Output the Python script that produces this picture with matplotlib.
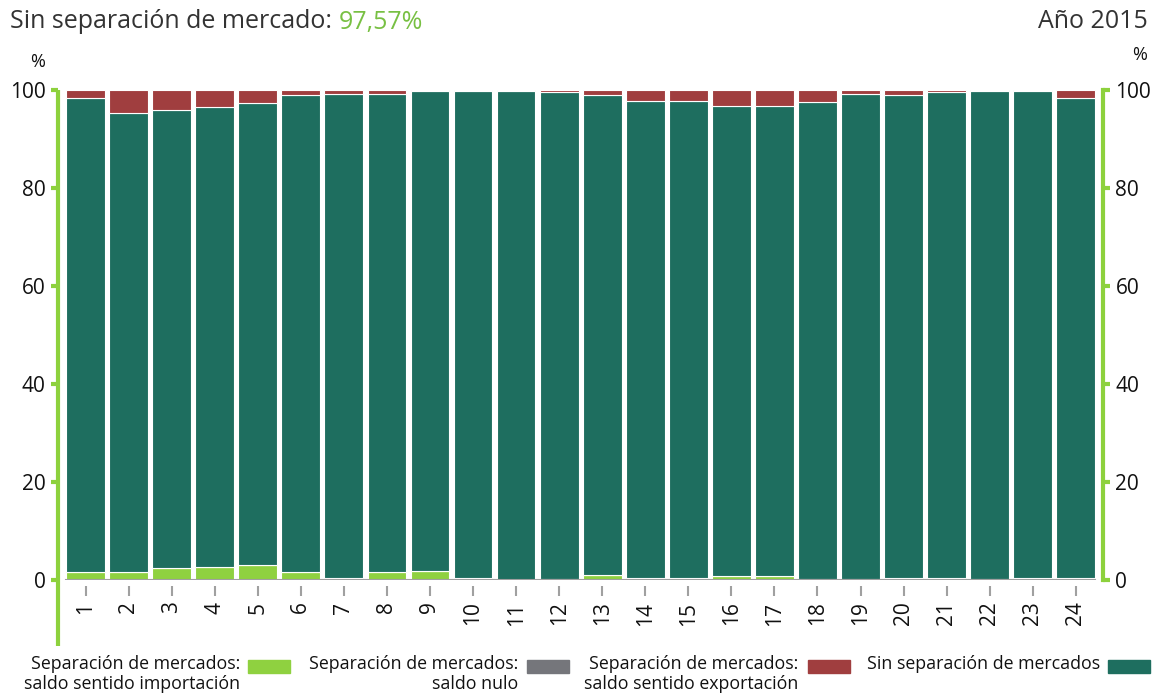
import matplotlib
matplotlib.use("Agg")
import matplotlib.pyplot as plt
from matplotlib.patches import Rectangle
from matplotlib.lines import Line2D
import numpy as np

plt.rcParams['font.family'] = ['Open Sans', 'DejaVu Sans']

hours = list(range(1, 25))
# % de horas por tipo de separacion de mercado (2015)
importacion = [1.6, 1.6, 2.4, 2.7, 3.0, 1.6, 0.5, 1.6, 1.8, 0.5, 0.1, 0.3,
               1.1, 0.5, 0.5, 0.8, 0.8, 0.3, 0.3, 0.5, 0.5, 0.3, 0.5, 0.5]
nulo = [0.0] * 24
exportacion = [1.6, 4.6, 4.1, 3.5, 2.7, 1.1, 0.8, 0.8, 0.3, 0.2, 0.2, 0.4,
               1.1, 2.2, 2.2, 3.2, 3.2, 2.4, 0.8, 1.1, 0.4, 0.2, 0.2, 1.6]
sin_separacion = [100 - a - b - c for a, b, c in zip(importacion, nulo, exportacion)]

legend_labels = ["Separación de mercados:\nsaldo sentido importación",
                 "Separación de mercados:\nsaldo nulo",
                 "Separación de mercados:\nsaldo sentido exportación",
                 "Sin separación de mercados"]
colors = ["#8fd140", "#75767b", "#a03e3f", "#1e6e5f"]
lime = "#8dd13d"

fig = plt.figure(figsize=(11.57, 7.0), dpi=100)
ax = fig.add_axes([0.0501, 0.1714, 0.9032, 0.7])

x = np.array(hours)
bottom = np.zeros(24)
# orden de apilado: importacion, nulo, sin separacion, exportacion (arriba)
stack = [(importacion, colors[0]), (nulo, colors[1]),
         (sin_separacion, colors[3]), (exportacion, colors[2])]
for vals, c in stack:
    ax.bar(x, vals, bottom=bottom, width=0.9, color=c, edgecolor="white", linewidth=0.8)
    bottom += np.array(vals)

ax.set_xlim(0.36, 24.63)
ax.set_ylim(0, 100)
ax.plot([x[0] - 0.45, x[-1] + 0.45], [0, 0], color="#a0a0a0", lw=1.5, zorder=3)

ax.spines['top'].set_visible(False)
ax.spines['left'].set_visible(False)
ax.spines['right'].set_color(lime)
ax.spines['right'].set_linewidth(3)
ax.spines['bottom'].set_position(('outward', 4.5))
ax.spines['bottom'].set_visible(False)
ax.add_line(Line2D([0, 0], [1.0, -0.135], transform=ax.transAxes, color=lime,
                   lw=3, clip_on=False, solid_capstyle='butt'))

ax.set_yticks([0, 20, 40, 60, 80, 100])
ax.tick_params(axis='y', left=True, right=True, labelleft=True, labelright=True,
               direction='out', length=5, width=3, color=lime, pad=4,
               labelsize=15, labelcolor="#111111")
ax.set_xticks(hours)
ax.set_xticklabels([str(h) for h in hours], rotation=90)
ax.tick_params(axis='x', direction='out', length=7, width=1.5, color="#a0a0a0",
               pad=4, labelsize=15, labelcolor="#111111")

fig.text(38 / 1157, 1 - 62 / 700, "%", ha='center', va='center', fontsize=13, color="#111111")
fig.text(1140 / 1157, 1 - 55 / 700, "%", ha='center', va='center', fontsize=13, color="#111111")

t = fig.text(10 / 1157, 1 - 22 / 700, "Sin separación de mercado: ", ha='left', va='center',
             fontsize=18, color="#333333")
fig.canvas.draw()
bb = t.get_window_extent()
fig.text(bb.x1 / fig.bbox.width, 1 - 22 / 700, "97,57%", ha='left', va='center',
         fontsize=18, color="#78c043")
fig.text(1148 / 1157, 1 - 22 / 700, "Año 2015", ha='right', va='center',
         fontsize=18, color="#333333")

# leyenda manual
text_right = [240, 518, 798, 1100]
patch_left = [248, 527, 808, 1108]
for lab, c, tr, pl in zip(legend_labels, colors, text_right, patch_left):
    fig.text(tr / 1157, 1 - 655 / 700, lab, ha='right', va='top', fontsize=12.8,
             multialignment='right', color="#111111", linespacing=1.12)
    fig.patches.append(Rectangle((pl / 1157, 1 - 673 / 700), 42 / 1157, 13 / 700,
                                 transform=fig.transFigure, color=c, figure=fig))

fig.savefig("out.png", dpi=100)
